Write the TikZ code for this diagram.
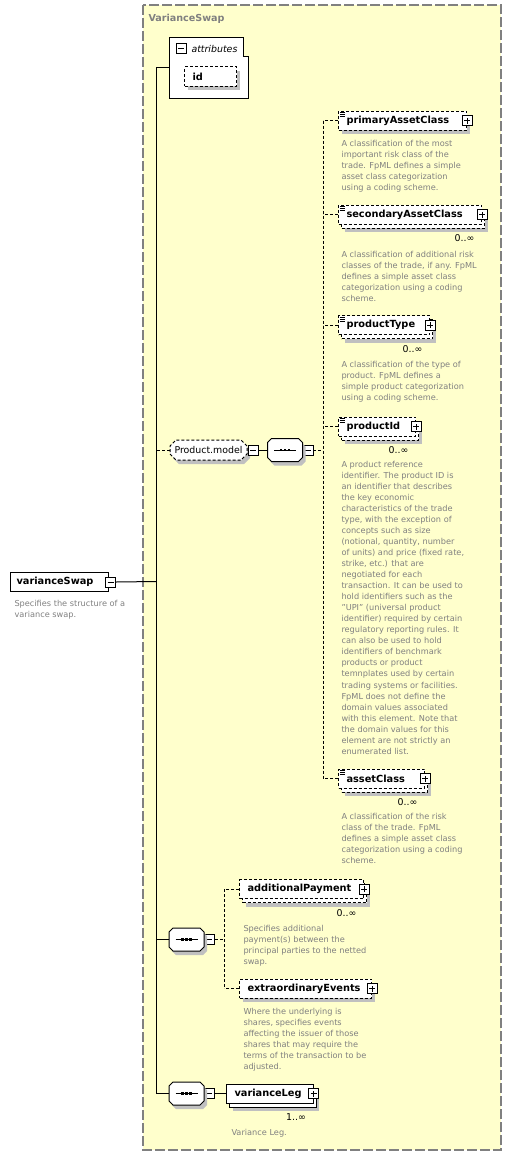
\documentclass[tikz,border=0pt]{standalone}
\usepackage{fontspec}
\setmainfont{DejaVu Sans}
\usetikzlibrary{shapes.misc,shadows,positioning}

\definecolor{groupbg}{RGB}{255,255,204}
\definecolor{groupline}{RGB}{128,128,128}
\definecolor{shadegray}{RGB}{192,192,192}
\definecolor{docgray}{RGB}{128,128,128}

% outline of a sequence compositor around node #1
\newcommand{\seqoutline}[1]{([xshift=4pt]#1.north west) -- ([xshift=-4pt]#1.north east) -- ([yshift=-4pt]#1.north east)
    -- ([yshift=4pt]#1.south east) -- ([xshift=-4pt]#1.south east) -- ([xshift=4pt]#1.south west)
    -- ([yshift=4pt]#1.south west) -- ([yshift=-4pt]#1.north west) -- cycle}

\begin{document}
\begin{tikzpicture}[
    x=1pt, y=-1pt,
    line width=1pt,
    conn/.style={line width=1pt},
    optconn/.style={line width=1pt, dash pattern=on 3pt off 2pt},
    dotline/.style={dash pattern=on 3pt off 2pt},
    groupbox/.style={draw=groupline, fill=groupbg, line width=1.2pt, dash pattern=on 10pt off 3pt},
    title/.style={anchor=west, inner sep=0pt, text=groupline, font=\fontsize{9.6}{11}\selectfont\bfseries},
    single/.style={drop shadow={shadow xshift=3pt, shadow yshift=-4pt, fill=shadegray, opacity=1}},
    many/.style={drop shadow={shadow xshift=6pt, shadow yshift=-8pt, fill=shadegray, opacity=1},
                 copy shadow={shadow xshift=3pt, shadow yshift=-4pt, draw=black, fill=white, #1}},
    many/.default={},
    element/.style={draw, fill=white, rectangle, anchor=west, minimum height=19pt, inner xsep=8pt, inner ysep=0pt,
                    align=left, font=\fontsize{9.8}{11}\selectfont\bfseries},
    optional/.style={element, dotline},
    seqbox/.style={rectangle, inner sep=0pt, minimum width=34pt, minimum height=22pt},
    groupref/.style={chamfered rectangle, chamfered rectangle sep=3pt, draw, fill=white,
                     dotline, inner sep=0pt, minimum width=77pt, minimum height=20pt, font=\fontsize{9.4}{11}\selectfont, single},
    signbox/.style={draw, fill=white, minimum size=10pt, inner sep=0pt, line width=0.9pt},
    plusbox/.style={signbox, path picture={
        \draw[line width=0.8pt] ([xshift=-3pt]path picture bounding box.center) -- ([xshift=3pt]path picture bounding box.center)
                                ([yshift=-3pt]path picture bounding box.center) -- ([yshift=3pt]path picture bounding box.center);}},
    minusbox/.style={signbox, path picture={
        \draw[line width=0.8pt] ([xshift=-3pt]path picture bounding box.center) -- ([xshift=3pt]path picture bounding box.center);}},
    card/.style={anchor=east, inner sep=0pt, font=\fontsize{9.4}{11}\selectfont},
    doc/.style={anchor=north west, inner sep=0pt, align=left, text=docgray, font=\fontsize{8.2}{11.05}\selectfont}
]
\useasboundingbox (0,0) rectangle (511,1156);

% group frame
\draw[groupbox] (143,5) rectangle (501,1150);
\node[title] (title) at (148,19) {VarianceSwap};

% root element
\node[element, inner xsep=6pt, text width=86pt] (vs) at (10,581.5) {varianceSwap};
\node[minusbox] (vs-m) at (110.5,582) {};
\node[doc] (vs-d) at (14,600) {Specifies the structure of a\\variance swap.};
\coordinate (trunk) at (156,581.5);

% attributes
\node[inner sep=0pt, minimum width=78pt, minimum height=60pt] (attrs) at (209,68) {};
\draw[fill=white] (attrs.north west) -- ([xshift=-5pt]attrs.north east) |- ([yshift=-19pt]attrs.north east)
    -- (attrs.south east) -- (attrs.south west) -- cycle;
\node[minusbox] (attrs-m) at (181,48.5) {};
\node[anchor=west, inner sep=0pt, font=\fontsize{9.4}{11}\selectfont\itshape] (attrs-l) at (191,48.5) {attributes};
\node[optional, single, text width=36pt] (id) at (184,76.5) {id};

% Product.model
\node[groupref] (pm) at (208.5,450) {Product.model};
\node[minusbox, anchor=west] (pm-m) at (pm.east) {};
\node[seqbox] (seq1) at (285,450) {};
\node[minusbox, anchor=west] (seq1-m) at (seq1.east) {};
\coordinate (bus1) at (323,450);

\node[optional, single, text width=112pt] (pac) at (338,120.5) {primaryAssetClass};
\node[optional, many=dotline, text width=127pt] (sac) at (338,214.5) {secondaryAssetClass};
\node[optional, many=dotline, text width=75pt] (pt) at (338,325) {productType};
\node[optional, many=dotline, text width=61pt] (pid) at (338,426.5) {productId};
\node[optional, many=dotline, text width=70pt] (ac) at (338,778.5) {assetClass};

\node[doc] (pac-d) at (341,139.3) {A classification of the most\\important risk class of the\\trade. FpML defines a simple\\asset class categorization\\using a coding scheme.};
\node[doc] (sac-d) at (341,250.3) {A classification of additional risk\\classes of the trade, if any. FpML\\defines a simple asset class\\categorization using a coding\\scheme.};
\node[doc] (pt-d) at (341,360.3) {A classification of the type of\\product. FpML defines a\\simple product categorization\\using a coding scheme.};
\node[doc] (pid-d) at (341,460.3) {A product reference\\identifier. The product ID is\\an identifier that describes\\the key economic\\characteristics of the trade\\type, with the exception of\\concepts such as size\\(notional, quantity, number\\of units) and price (fixed rate,\\strike, etc.) that are\\negotiated for each\\transaction. It can be used to\\hold identifiers such as the\\"UPI" (universal product\\identifier) required by certain\\regulatory reporting rules. It\\can also be used to hold\\identifiers of benchmark\\products or product\\temnplates used by certain\\trading systems or facilities.\\FpML does not define the\\domain values associated\\with this element. Note that\\the domain values for this\\element are not strictly an\\enumerated list.};
\node[doc] (ac-d) at (341,813) {A classification of the risk\\class of the trade. FpML\\defines a simple asset class\\categorization using a coding\\scheme.};

% second sequence
\node[seqbox] (seq2) at (186.5,939.5) {};
\node[minusbox, anchor=west] (seq2-m) at (seq2.east) {};
\coordinate (bus2) at (224,939.5);
\node[optional, many=dotline, text width=108pt] (ap) at (239,889) {additionalPayment};
\node[optional, single, text width=116pt] (ee) at (239,988.5) {extraordinaryEvents};
\node[doc] (ap-d) at (243,925) {Specifies additional\\payment(s) between the\\principal parties to the netted\\swap.};
\node[doc] (ee-d) at (243,1008) {Where the underlying is\\shares, specifies events\\affecting the issuer of those\\shares that may require the\\terms of the transaction to be\\adjusted.};

% third sequence
\node[seqbox] (seq3) at (186.5,1093.5) {};
\node[minusbox, anchor=west] (seq3-m) at (seq3.east) {};
\node[element, many, text width=70.5pt] (vl) at (226,1093.5) {varianceLeg};
\node[doc] (vl-d) at (231,1129) {Variance Leg.};

% expand boxes and cardinalities
\foreach \n in {pac,sac,pt,pid,ac,ap,ee,vl}
    \node[plusbox] (\n-p) at (\n.east) {};
\foreach \n/\c in {sac/0..∞,pt/0..∞,pid/0..∞,ac/0..∞,ap/0..∞,vl/1..∞}
    \node[card] (\n-c) at ([xshift=-7pt,yshift=-14pt]\n.south east) {\c};

% simple content marks
\foreach \n in {pac,sac,pt,pid,ac}
    \foreach \k in {2,4,6}
        \draw[line width=0.6pt] ([xshift=1.5pt,yshift=-\k pt]\n.north west) -- ++(5pt,0pt);

% sequence compositors
\foreach \s in {seq1,seq2,seq3} {
    \fill[shadegray, transform canvas={shift={(3pt,-4pt)}}] \seqoutline{\s};
    \filldraw[fill=white] \seqoutline{\s};
    \draw[line width=0.8pt] ([xshift=-11pt]\s.center) -- ([xshift=11pt]\s.center);
    \foreach \dx in {-4,0,4}
        \fill ([xshift=\dx pt]\s.center) ++(-1.3pt,-1.3pt) rectangle ++(2.6pt,2.6pt);
}

% connectors
\draw[conn] (vs-m.east) -- (trunk);
\draw[conn] (attrs.west -| trunk) -- (seq3.west -| trunk);
\draw[conn] (attrs.west) -- (attrs.west -| trunk);
\draw[optconn] (pm.west) -- (pm.west -| trunk);
\draw[conn] (seq2.west) -- (seq2.west -| trunk);
\draw[conn] (seq3.west) -- (seq3.west -| trunk);
\draw[conn] (pm-m.east) -- (seq1.west);
\draw[optconn] (seq1-m.east) -- (bus1);
\draw[optconn] (pac.west -| bus1) -- (ac.west -| bus1);
\foreach \n in {pac,sac,pt,pid,ac}
    \draw[optconn] (\n.west) -- (\n.west -| bus1);
\draw[optconn] (seq2-m.east) -- (bus2);
\draw[optconn] (ap.west -| bus2) -- (ee.west -| bus2);
\foreach \n in {ap,ee}
    \draw[optconn] (\n.west) -- (\n.west -| bus2);
\draw[conn] (seq3-m.east) -- (vl.west);
\end{tikzpicture}
\end{document}
